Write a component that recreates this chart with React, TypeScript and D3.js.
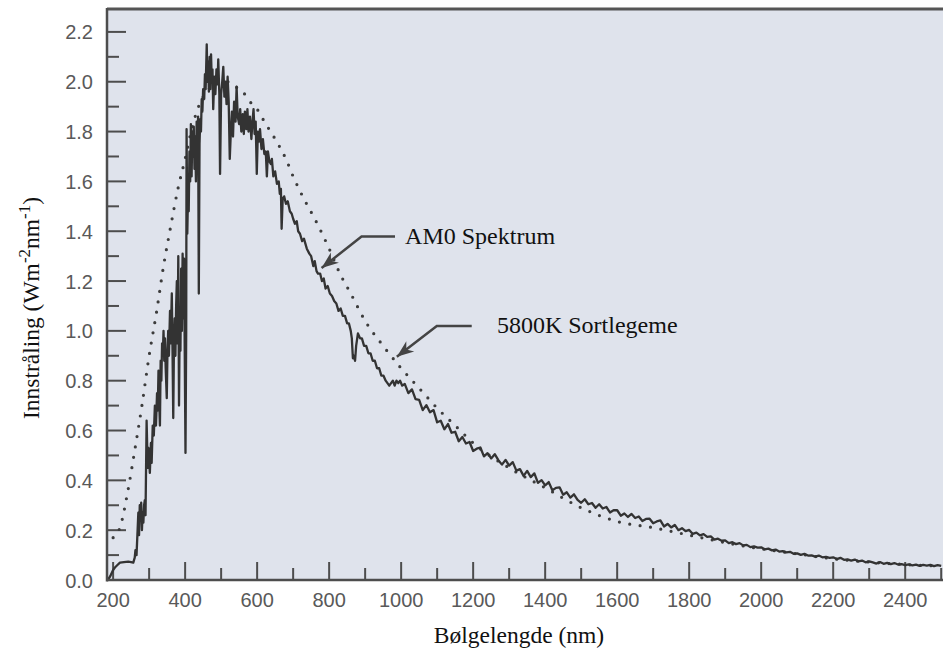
import React from "react";
import * as d3 from "d3";

const W = 943;
const H = 652;

// axis ticks
const xMajorTicks = [200, 400, 600, 800, 1000, 1200, 1400, 1600, 1800, 2000, 2200, 2400];
const xMinorTicks = [300, 500, 700, 900, 1100, 1300, 1500, 1700, 1900, 2100, 2300, 2500];
const yMajorTicks = [0, 0.2, 0.4, 0.6, 0.8, 1.0, 1.2, 1.4, 1.6, 1.8, 2.0, 2.2];
const yMinorTicks = [0.1, 0.3, 0.5, 0.7, 0.9, 1.1, 1.3, 1.5, 1.7, 1.9, 2.1];
const yTickLabels = ["0.0", "0.2", "0.4", "0.6", "0.8", "1.0", "1.2", "1.4", "1.6", "1.8", "2.0", "2.2"];

// AM0 spectrum (nm, W m-2 nm-1)
const am0Main: [number, number][] = [
  [185, 0.0], [192, 0.015], [200, 0.04], [205, 0.05], [212, 0.06], [219, 0.07], [230, 0.072], [242, 0.074],
  [250, 0.072], [256, 0.07], [260, 0.09], [262, 0.12], [265, 0.1], [268, 0.2], [270, 0.27], [272, 0.18],
  [274, 0.3], [276, 0.24], [278, 0.31], [280, 0.2], [282, 0.27], [284, 0.23], [286, 0.3], [288, 0.32],
  [290, 0.26], [293, 0.64], [296, 0.45], [298, 0.53], [302, 0.43], [305, 0.55], [307, 0.47], [310, 0.62],
  [313, 0.58], [316, 0.7], [319, 0.62], [322, 0.75], [324, 0.68], [326, 0.84], [328, 0.72], [330, 0.62],
  [332, 0.88], [334, 0.8], [336, 0.95], [338, 0.9], [340, 1.0], [342, 0.88], [344, 0.97], [346, 0.85],
  [349, 0.73], [351, 0.92], [353, 1.0], [355, 0.9], [358, 1.08], [360, 0.95], [363, 1.15], [365, 0.92],
  [367, 0.65], [369, 0.95], [371, 1.05], [373, 0.9], [375, 1.1], [377, 1.2], [379, 0.95], [381, 1.3],
  [383, 0.7], [385, 1.05], [387, 0.92], [389, 1.25], [391, 1.0], [393, 1.31], [395, 1.05], [397, 1.29],
  [399, 0.9], [401, 0.51], [403, 1.0], [404, 1.81], [406, 1.39], [408, 1.55], [410, 1.48], [412, 1.72],
  [414, 1.6], [416, 1.83], [418, 1.62], [420, 1.8], [422, 1.7], [424, 1.82], [426, 1.65], [428, 1.78],
  [430, 1.6], [432, 1.84], [434, 1.72], [436, 1.86], [438, 1.15], [440, 1.75], [442, 1.85], [444, 1.8],
  [446, 1.93], [448, 1.88], [450, 1.97], [453, 1.93], [455, 2.03], [457, 1.97], [460, 2.15], [462, 2.0],
  [464, 2.08], [466, 1.96], [468, 2.1], [470, 1.97], [472, 2.11], [474, 2.0], [476, 2.05], [478, 1.89],
  [481, 2.02], [484, 1.95], [487, 2.05], [490, 1.99], [492, 2.09], [495, 1.95], [497, 1.63], [500, 1.95],
  [503, 2.0], [506, 2.06], [509, 1.94], [512, 2.0], [515, 1.91], [518, 2.02], [521, 1.92], [524, 1.69],
  [527, 1.8], [530, 1.88], [533, 1.78], [536, 1.92], [540, 1.84], [543, 1.98], [546, 1.86], [550, 1.83],
  [553, 1.89], [556, 1.8], [560, 1.87], [563, 1.79], [566, 1.88], [570, 1.81], [573, 1.89], [576, 1.8],
  [580, 1.86], [584, 1.77], [587, 1.84], [590, 1.89], [593, 1.79], [596, 1.84], [599, 1.63], [602, 1.8],
  [605, 1.76], [608, 1.81], [612, 1.73], [616, 1.77], [620, 1.71], [624, 1.72], [627, 1.62], [630, 1.72],
  [634, 1.68], [638, 1.67], [641, 1.69], [645, 1.62], [650, 1.64], [655, 1.59], [660, 1.6], [663, 1.55],
  [666, 1.57], [668, 1.41], [671, 1.53], [675, 1.54], [680, 1.51], [685, 1.52], [691, 1.48], [696, 1.47],
  [700, 1.45], [705, 1.43], [710, 1.44], [714, 1.4], [719, 1.39], [725, 1.36], [730, 1.37], [738, 1.33],
  [745, 1.31], [750, 1.3], [756, 1.26], [760, 1.28], [765, 1.24], [769, 1.23], [775, 1.23], [780, 1.2],
  [785, 1.21], [790, 1.17], [796, 1.18], [802, 1.15], [808, 1.14], [814, 1.12], [820, 1.11], [826, 1.08],
  [832, 1.09], [838, 1.06], [844, 1.06], [850, 1.03], [855, 1.03], [860, 1.0], [863, 0.97], [866, 0.89],
  [869, 0.9], [872, 0.88], [875, 0.94], [880, 0.99], [886, 0.97], [891, 0.97], [897, 0.94], [903, 0.94],
  [909, 0.91], [915, 0.91], [921, 0.88], [927, 0.88], [933, 0.85], [939, 0.85], [945, 0.82], [951, 0.82],
  [957, 0.8], [962, 0.79], [967, 0.78], [972, 0.79], [977, 0.8], [982, 0.78], [987, 0.8], [992, 0.79],
  [997, 0.8], [1003, 0.78],
];

// AM0 tail, sampled every 10 nm from 1010 nm
const am0TailStart = 1010;
const am0TailStep = 10;
const am0TailValues = [
  0.787, 0.75, 0.765, 0.726, 0.723, 0.682, 0.702, 0.673, 0.682, 0.633,
  0.639, 0.605, 0.626, 0.591, 0.595, 0.557, 0.574, 0.548, 0.554, 0.518,
  0.527, 0.532, 0.496, 0.509, 0.488, 0.505, 0.481, 0.463, 0.482, 0.459,
  0.473, 0.439, 0.445, 0.418, 0.438, 0.413, 0.428, 0.39, 0.401, 0.38,
  0.393, 0.36, 0.37, 0.372, 0.342, 0.352, 0.331, 0.344, 0.322, 0.31,
  0.324, 0.304, 0.309, 0.29, 0.304, 0.287, 0.293, 0.271, 0.28, 0.28,
  0.258, 0.267, 0.253, 0.265, 0.249, 0.255, 0.237, 0.245, 0.246, 0.228,
  0.235, 0.239, 0.215, 0.225, 0.211, 0.221, 0.2, 0.208, 0.196, 0.201,
  0.185, 0.19, 0.179, 0.184, 0.173, 0.175, 0.162, 0.166, 0.158, 0.159,
  0.148, 0.152, 0.144, 0.148, 0.139, 0.141, 0.132, 0.135, 0.13, 0.131,
  0.123, 0.126, 0.119, 0.122, 0.114, 0.116, 0.111, 0.113, 0.105, 0.107,
  0.101, 0.105, 0.098, 0.099, 0.094, 0.098, 0.091, 0.093, 0.089, 0.091,
  0.084, 0.089, 0.081, 0.083, 0.078, 0.082, 0.075, 0.078, 0.071, 0.075,
  0.071, 0.066, 0.072, 0.065, 0.069, 0.064, 0.068, 0.062, 0.064, 0.06,
  0.063, 0.059, 0.062, 0.057, 0.061, 0.058, 0.061, 0.056, 0.06, 0.057,
];

// 5800 K blackbody (dotted)
const bbNm = [200, 220, 240, 260, 280, 300, 320, 340, 360, 380, 400, 420, 440, 460, 480, 500, 520, 540, 560, 580,
  600, 620, 650, 680, 700, 730, 760, 800, 830, 860, 900, 950, 1000, 1050, 1100, 1150, 1200, 1300, 1400, 1500,
  1600, 1700, 1800, 1900, 2000, 2100, 2200, 2300, 2400, 2500];
const bbVal = [0.17, 0.215, 0.35, 0.52, 0.7, 0.9, 1.07, 1.26, 1.42, 1.57, 1.69, 1.82, 1.91, 1.96, 1.99, 2.0, 2.0, 1.98, 1.96, 1.92,
  1.89, 1.84, 1.77, 1.69, 1.62, 1.53, 1.45, 1.33, 1.23, 1.15, 1.04, 0.94, 0.85, 0.77, 0.69, 0.62, 0.55, 0.45, 0.37, 0.29,
  0.235, 0.21, 0.18, 0.15, 0.125, 0.105, 0.085, 0.072, 0.062, 0.056];

// annotations: text anchor and arrow path in data coordinates
const annotations = [
  { label: "AM0 Spektrum", text: [1011, 1.349], arrow: [[983, 1.379], [890, 1.379], [779, 1.252]] },
  { label: "5800K Sortlegeme", text: [1266, 0.992], arrow: [[1196, 1.02], [1099, 1.02], [988, 0.896]] },
];

const PLOT = { left: 107, right: 943, top: 8, bottom: 580 };

export default function App() {
  const x = d3.scaleLinear().domain([183, 2505]).range([PLOT.left, PLOT.right]);
  const y = d3.scaleLinear().domain([0, 2.296]).range([PLOT.bottom, PLOT.top]);

  const am0Data: [number, number][] = [
    ...am0Main,
    ...am0TailValues.map((v, i) => [am0TailStart + i * am0TailStep, v] as [number, number]),
  ];
  const am0Line = d3.line<[number, number]>().x((d) => x(d[0])).y((d) => y(d[1]));
  const bbData = bbNm.map((n, i) => [n, bbVal[i]] as [number, number]);
  const bbLine = d3
    .line<[number, number]>()
    .x((d) => x(d[0]))
    .y((d) => y(d[1]))
    .curve(d3.curveMonotoneX);

  const axisColor = "#4d4d4d";
  const tickFont = "'Liberation Sans', Arial, sans-serif";
  const serif = "'Liberation Serif', 'Times New Roman', serif";

  const arrowHead = (pts: number[][]) => {
    const [a, b] = [pts[pts.length - 2], pts[pts.length - 1]];
    const ax = x(a[0]), ay = y(a[1]), bx = x(b[0]), by = y(b[1]);
    const len = Math.hypot(bx - ax, by - ay);
    const ux = (bx - ax) / len, uy = (by - ay) / len;
    const nx = -uy, ny = ux;
    const L = 17, w = 6.5, notch = 5;
    const p1 = [bx - L * ux + w * nx, by - L * uy + w * ny];
    const p2 = [bx - (L - notch) * ux, by - (L - notch) * uy];
    const p3 = [bx - L * ux - w * nx, by - L * uy - w * ny];
    return `M${bx},${by}L${p1[0]},${p1[1]}L${p2[0]},${p2[1]}L${p3[0]},${p3[1]}Z`;
  };

  return (
    <svg width={W} height={H} style={{ position: "absolute", left: 0, top: 0, background: "#ffffff" }}>
      <defs>
        <clipPath id="plotClip">
          <rect x={PLOT.left} y={PLOT.top} width={PLOT.right - PLOT.left} height={PLOT.bottom - PLOT.top} />
        </clipPath>
      </defs>
      <rect x={PLOT.left} y={PLOT.top} width={PLOT.right - PLOT.left} height={PLOT.bottom - PLOT.top} fill="#dfe3ec" />

      {/* ticks */}
      {xMajorTicks.map((t) => (
        <line key={"xM" + t} x1={x(t)} x2={x(t)} y1={PLOT.bottom} y2={PLOT.bottom - 18} stroke={axisColor} strokeWidth={2} />
      ))}
      {xMinorTicks.map((t) => (
        <line key={"xm" + t} x1={x(t)} x2={x(t)} y1={PLOT.bottom} y2={PLOT.bottom - 12} stroke={axisColor} strokeWidth={2} />
      ))}
      {yMajorTicks.map((t) => (
        <line key={"yM" + t} x1={PLOT.left} x2={PLOT.left + 19} y1={y(t)} y2={y(t)} stroke={axisColor} strokeWidth={2} />
      ))}
      {yMinorTicks.map((t) => (
        <line key={"ym" + t} x1={PLOT.left} x2={PLOT.left + 12} y1={y(t)} y2={y(t)} stroke={axisColor} strokeWidth={2} />
      ))}

      {/* curves */}
      <g clipPath="url(#plotClip)">
        <path d={bbLine(bbData) || ""} fill="none" stroke="#3c3c3c" strokeWidth={3.2} strokeLinecap="round" strokeDasharray="0 10.5" />
        <path d={am0Line(am0Data) || ""} fill="none" stroke="#333333" strokeWidth={2.3} strokeLinejoin="round" />
      </g>

      {/* frame */}
      <line x1={PLOT.left} x2={PLOT.right} y1={PLOT.top + 1} y2={PLOT.top + 1} stroke="#555" strokeWidth={3} />
      <line x1={PLOT.left} x2={PLOT.left} y1={PLOT.top} y2={PLOT.bottom + 1.5} stroke={axisColor} strokeWidth={2.5} />
      <line x1={PLOT.left} x2={PLOT.right} y1={PLOT.bottom} y2={PLOT.bottom} stroke={axisColor} strokeWidth={2.5} />

      {/* tick labels */}
      {xMajorTicks.map((t) => (
        <text key={"xl" + t} x={x(t)} y={607} textAnchor="middle" fontFamily={tickFont} fontSize={20} fill="#595959">
          {t}
        </text>
      ))}
      {yMajorTicks.map((t, i) => (
        <text key={"yl" + t} x={93} y={y(t) + 7.5} textAnchor="end" fontFamily={tickFont} fontSize={20} fill="#595959">
          {yTickLabels[i]}
        </text>
      ))}

      {/* axis titles */}
      <text x={519} y={643} textAnchor="middle" fontFamily={serif} fontSize={23.5} fill="#111">
        Bølgelengde (nm)
      </text>
      <text transform="translate(39,308) rotate(-90)" textAnchor="middle" fontFamily={serif} fontSize={23.5} fill="#111">
        Innstråling (Wm
        <tspan dy={-9} fontSize={17}>-2</tspan>
        <tspan dy={9}>nm</tspan>
        <tspan dy={-9} fontSize={17}>-1</tspan>
        <tspan dy={9}>)</tspan>
      </text>

      {/* annotations */}
      {annotations.map((a) => (
        <g key={a.label}>
          <path
            d={d3.line()(a.arrow.map((p) => [x(p[0]), y(p[1])] as [number, number])) || ""}
            fill="none"
            stroke="#444"
            strokeWidth={2.5}
          />
          <path d={arrowHead(a.arrow)} fill="#444" />
          <text x={x(a.text[0])} y={y(a.text[1])} fontFamily={serif} fontSize={24} fill="#111">
            {a.label}
          </text>
        </g>
      ))}
    </svg>
  );
}
